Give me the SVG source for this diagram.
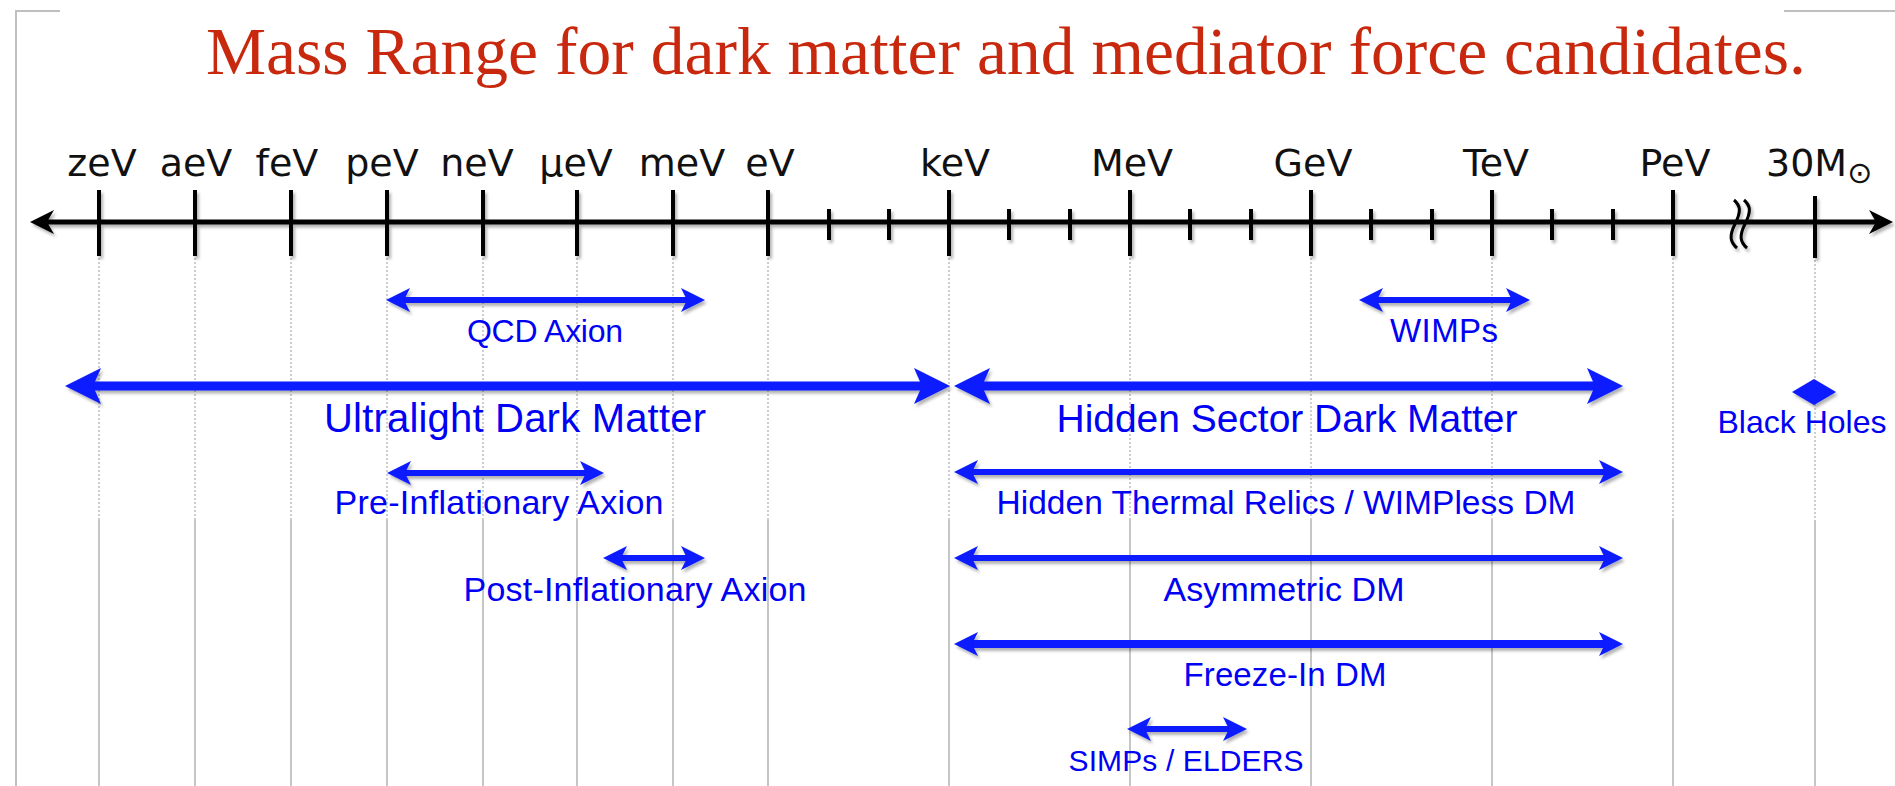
<svg xmlns="http://www.w3.org/2000/svg" width="1895" height="786" viewBox="0 0 1895 786">
  <style>
    .frame { stroke: #bfbfbf; stroke-width: 2; fill: none; }
    .grid-dot { stroke: #bdbdbd; stroke-width: 1.5; stroke-dasharray: 2 2; fill: none; }
    .grid-solid { stroke: #c6c6c6; stroke-width: 2; fill: none; }
    .axis-line { stroke: #000; stroke-width: 5; fill: none; }
    .tick-major { stroke: #000; stroke-width: 4; }
    .tick-minor { stroke: #000; stroke-width: 4; }
    .tick-label { font-family: "DejaVu Sans", "Liberation Sans", sans-serif; font-size: 38px; fill: #111; text-anchor: middle; }
    .title { font-family: "Liberation Serif", "DejaVu Serif", serif; font-size: 68px; fill: #c8290e; }
    .bar-lg { stroke: #0a1aff; stroke-width: 9; fill: none; }
    .bar-fz { stroke: #0a1aff; stroke-width: 8; fill: none; }
    .bar-md { stroke: #0a1aff; stroke-width: 6; fill: none; }
    .lbl { font-family: "Liberation Sans", Arial, sans-serif; fill: #0000f5; text-anchor: middle; }
    .brk { stroke: #000; stroke-width: 3; fill: none; }
  </style>
  <defs>
    <filter id="shadow" x="-5%" y="-50%" width="110%" height="200%">
      <feDropShadow dx="2" dy="3" stdDeviation="1.6" flood-color="#000" flood-opacity="0.3"/>
    </filter>
    <marker id="head-lg" viewBox="0 0 36 36" markerWidth="36" markerHeight="36" markerUnits="userSpaceOnUse" refX="18" refY="18" orient="auto-start-reverse">
      <path d="M0,0 L36,18 L0,36 L8,18 Z" fill="#0a1aff"/>
    </marker>
    <marker id="head-md" viewBox="0 0 24 24" markerWidth="24" markerHeight="24" markerUnits="userSpaceOnUse" refX="12" refY="12" orient="auto-start-reverse">
      <path d="M0,0 L24,12 L0,24 L6,12 Z" fill="#0a1aff"/>
    </marker>
    <marker id="head-axis" viewBox="0 0 24 24" markerWidth="24" markerHeight="24" markerUnits="userSpaceOnUse" refX="12" refY="12" orient="auto-start-reverse">
      <path d="M0,0 L24,12 L0,24 L7,12 Z" fill="#000"/>
    </marker>
  </defs>

  <rect width="1895" height="786" fill="#fff"/>

  <!-- page frame -->
  <g id="frame">
    <polyline class="frame" points="60,11 16,11 16,786"/>
    <line class="frame" x1="1784" y1="11" x2="1895" y2="11"/>
  </g>

  <!-- title -->
  <g id="title">
    <text class="title" x="206" y="74" textLength="1600" lengthAdjust="spacingAndGlyphs">Mass Range for dark matter and mediator force candidates.</text>
  </g>

  <!-- vertical guide lines under each decade label -->
  <g id="grid">
    <g class="grid-dot">
      <path d="M99,258V520 M195,258V520 M291,258V520 M387,258V520 M483,258V520 M577,258V520 M673,258V520 M768,258V520 M949,258V520 M1130,258V520 M1311,258V520 M1492,258V520 M1673,258V520 M1815,260V520"/>
    </g>
    <g class="grid-solid">
      <path d="M99,520V786 M195,520V786 M291,520V786 M387,520V786 M483,520V786 M577,520V786 M673,520V786 M768,520V786 M949,520V786 M1130,520V786 M1311,520V786 M1492,520V786 M1673,520V786 M1815,520V786"/>
    </g>
  </g>

  <!-- mass axis -->
  <g id="axis">
    <g filter="url(#shadow)">
      <line class="axis-line" x1="42" y1="222" x2="1881" y2="222" marker-start="url(#head-axis)" marker-end="url(#head-axis)"/>
      <path class="tick-major" d="M99,190V256 M195,190V256 M291,190V256 M387,190V256 M483,190V256 M577,190V256 M673,190V256 M768,190V256 M949,190V256 M1130,190V256 M1311,190V256 M1492,190V256 M1673,190V256 M1815,196V258"/>
      <path class="tick-minor" d="M829,209V240 M889,209V240 M1009,209V240 M1070,209V240 M1190,209V240 M1251,209V240 M1371,209V240 M1432,209V240 M1552,209V240 M1613,209V240"/>
      <path class="brk" d="M1734,200 c7,6 7,12 1,24 c-6,12 -5,18 2,24 M1744,200 c7,6 7,12 1,24 c-6,12 -5,18 2,24"/>
    </g>
    <g id="axis-labels">
      <text class="tick-label" x="102" y="176">zeV</text>
      <text class="tick-label" x="196" y="176">aeV</text>
      <text class="tick-label" x="287" y="176">feV</text>
      <text class="tick-label" x="382" y="176">peV</text>
      <text class="tick-label" x="477" y="176">neV</text>
      <text class="tick-label" x="576" y="176">μeV</text>
      <text class="tick-label" x="682" y="176">meV</text>
      <text class="tick-label" x="770" y="176">eV</text>
      <text class="tick-label" x="955" y="176">keV</text>
      <text class="tick-label" x="1132" y="176">MeV</text>
      <text class="tick-label" x="1313" y="176">GeV</text>
      <text class="tick-label" x="1496" y="176">TeV</text>
      <text class="tick-label" x="1675" y="176">PeV</text>
      <text class="tick-label" x="1766" y="176" style="text-anchor:start">30M<tspan font-size="30" dy="7">⊙</tspan></text>
    </g>
  </g>

  <!-- range bars -->
  <g id="connectors" filter="url(#shadow)">
    <line class="bar-md" x1="398" y1="300" x2="693" y2="300" marker-start="url(#head-md)" marker-end="url(#head-md)"/>
    <line class="bar-md" x1="1371" y1="300" x2="1518" y2="300" marker-start="url(#head-md)" marker-end="url(#head-md)"/>
    <line class="bar-lg" x1="83" y1="386" x2="932" y2="386" marker-start="url(#head-lg)" marker-end="url(#head-lg)"/>
    <line class="bar-lg" x1="972" y1="386" x2="1605" y2="386" marker-start="url(#head-lg)" marker-end="url(#head-lg)"/>
    <polygon points="1792,392 1814,379 1836,392 1814,405" fill="#0a1aff"/>
    <line class="bar-md" x1="399" y1="473" x2="592" y2="473" marker-start="url(#head-md)" marker-end="url(#head-md)"/>
    <line class="bar-md" x1="966" y1="472" x2="1611" y2="472" marker-start="url(#head-md)" marker-end="url(#head-md)"/>
    <line class="bar-md" x1="615" y1="558" x2="693" y2="558" marker-start="url(#head-md)" marker-end="url(#head-md)"/>
    <line class="bar-md" x1="966" y1="558" x2="1611" y2="558" marker-start="url(#head-md)" marker-end="url(#head-md)"/>
    <line class="bar-fz" x1="966" y1="644" x2="1611" y2="644" marker-start="url(#head-md)" marker-end="url(#head-md)"/>
    <line class="bar-md" x1="1139" y1="729" x2="1235" y2="729" marker-start="url(#head-md)" marker-end="url(#head-md)"/>
  </g>

  <!-- candidate labels -->
  <g id="qcd-axion"><text class="lbl" x="545" y="342" font-size="32" textLength="156">QCD Axion</text></g>
  <g id="wimps"><text class="lbl" x="1444" y="342" font-size="33" textLength="108">WIMPs</text></g>
  <g id="ultralight-dm"><text class="lbl" x="515" y="432" font-size="40" textLength="382">Ultralight Dark Matter</text></g>
  <g id="hidden-sector-dm"><text class="lbl" x="1287" y="432" font-size="39" textLength="461">Hidden Sector Dark Matter</text></g>
  <g id="black-holes"><text class="lbl" x="1802" y="433" font-size="32" textLength="169">Black Holes</text></g>
  <g id="pre-inflationary-axion"><text class="lbl" x="499" y="514" font-size="34" textLength="329">Pre-Inflationary Axion</text></g>
  <g id="hidden-thermal-relics"><text class="lbl" x="1286" y="514" font-size="33.5" textLength="579">Hidden Thermal Relics / WIMPless DM</text></g>
  <g id="post-inflationary-axion"><text class="lbl" x="635" y="601" font-size="34" textLength="343">Post-Inflationary Axion</text></g>
  <g id="asymmetric-dm"><text class="lbl" x="1284" y="601" font-size="34" textLength="241">Asymmetric DM</text></g>
  <g id="freeze-in-dm"><text class="lbl" x="1285" y="686" font-size="33" textLength="203">Freeze-In DM</text></g>
  <g id="simps-elders"><text class="lbl" x="1186" y="771" font-size="30" textLength="235">SIMPs / ELDERS</text></g>
</svg>
